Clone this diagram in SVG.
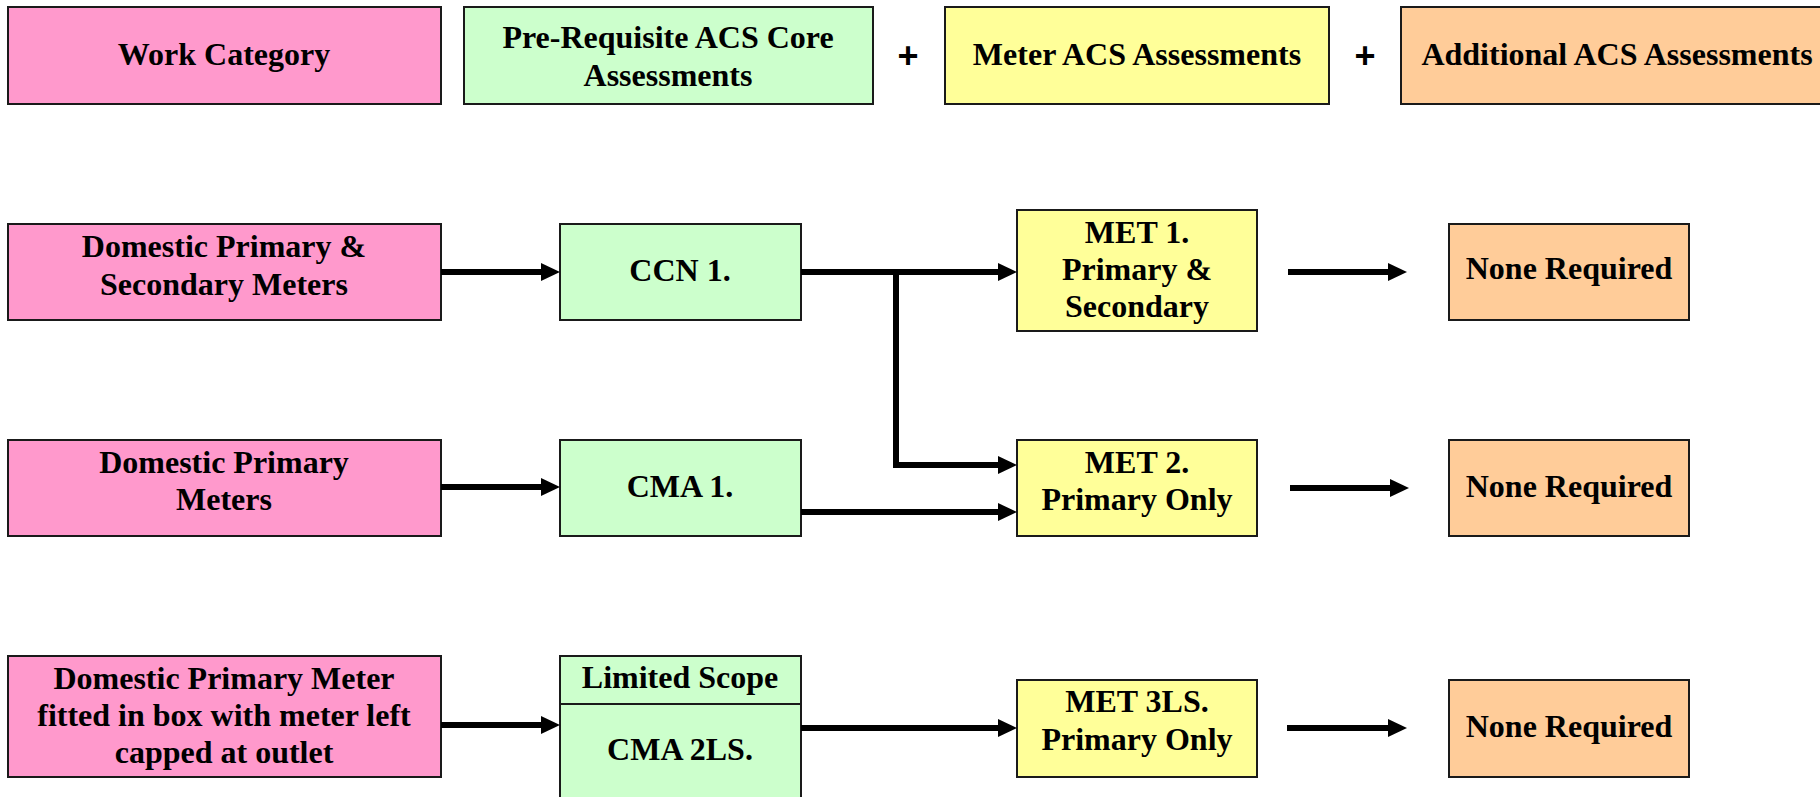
<svg xmlns="http://www.w3.org/2000/svg" width="1820" height="797" viewBox="0 0 1820 797">
  <style>
    .box { stroke: #1a1a1a; stroke-width: 2; }
    .pink { fill: #FF99CC; }
    .green { fill: #CCFFCC; }
    .yellow { fill: #FFFF99; }
    .orange { fill: #FFCC99; }
    text { font-family: "Liberation Serif", "Times New Roman", serif; font-weight: bold; font-size: 32px; fill: #000; text-anchor: middle; }
    .plus { font-family: "Liberation Sans", Arial, sans-serif; font-size: 36px; }
    .conn { fill: none; stroke: #000; stroke-width: 6; stroke-linejoin: miter; marker-end: url(#arrow); }
  </style>
  <defs>
    <marker id="arrow" markerUnits="userSpaceOnUse" markerWidth="19" markerHeight="18" refX="4" refY="9" orient="auto">
      <path d="M0,0 L19,9 L0,18 Z" fill="#000"/>
    </marker>
  </defs>
  <rect width="1820" height="797" fill="#fff"/>

  <!-- Header row -->
  <g id="hdr-work-category">
    <rect class="box pink" x="8" y="7" width="433" height="97"/>
    <text x="224" y="65">Work Category</text>
  </g>
  <g id="hdr-prereq">
    <rect class="box green" x="464" y="7" width="409" height="97"/>
    <text x="668" y="48">Pre-Requisite ACS Core</text>
    <text x="668" y="86">Assessments</text>
  </g>
  <g id="plus-1"><text class="plus" x="908" y="68">+</text></g>
  <g id="hdr-meter">
    <rect class="box yellow" x="945" y="7" width="384" height="97"/>
    <text x="1137" y="65">Meter ACS Assessments</text>
  </g>
  <g id="plus-2"><text class="plus" x="1365" y="68">+</text></g>
  <g id="hdr-additional">
    <rect class="box orange" x="1401" y="7" width="440" height="97"/>
    <text x="1617" y="65">Additional ACS Assessments</text>
  </g>

  <!-- Row 1 -->
  <g id="wc-primary-secondary">
    <rect class="box pink" x="8" y="224" width="433" height="96"/>
    <text x="224" y="257">Domestic Primary &amp;</text>
    <text x="224" y="295">Secondary Meters</text>
  </g>
  <g id="ccn1">
    <rect class="box green" x="560" y="224" width="241" height="96"/>
    <text x="680" y="281">CCN 1.</text>
  </g>
  <g id="met1">
    <rect class="box yellow" x="1017" y="210" width="240" height="121"/>
    <text x="1137" y="243">MET 1.</text>
    <text x="1137" y="280">Primary &amp;</text>
    <text x="1137" y="317">Secondary</text>
  </g>
  <g id="none1">
    <rect class="box orange" x="1449" y="224" width="240" height="96"/>
    <text x="1569" y="279">None Required</text>
  </g>

  <!-- Row 2 -->
  <g id="wc-primary">
    <rect class="box pink" x="8" y="440" width="433" height="96"/>
    <text x="224" y="473">Domestic Primary</text>
    <text x="224" y="510">Meters</text>
  </g>
  <g id="cma1">
    <rect class="box green" x="560" y="440" width="241" height="96"/>
    <text x="680" y="497">CMA 1.</text>
  </g>
  <g id="met2">
    <rect class="box yellow" x="1017" y="440" width="240" height="96"/>
    <text x="1137" y="473">MET 2.</text>
    <text x="1137" y="510">Primary Only</text>
  </g>
  <g id="none2">
    <rect class="box orange" x="1449" y="440" width="240" height="96"/>
    <text x="1569" y="497">None Required</text>
  </g>

  <!-- Row 3 -->
  <g id="wc-primary-box">
    <rect class="box pink" x="8" y="656" width="433" height="121"/>
    <text x="224" y="689">Domestic Primary Meter</text>
    <text x="224" y="726">fitted in box with meter left</text>
    <text x="224" y="763">capped at outlet</text>
  </g>
  <g id="cma2ls">
    <rect class="box green" x="560" y="656" width="241" height="160"/>
    <line x1="560" y1="704" x2="801" y2="704" stroke="#1a1a1a" stroke-width="2"/>
    <text x="680" y="688">Limited Scope</text>
    <text x="680" y="760">CMA 2LS.</text>
  </g>
  <g id="met3ls">
    <rect class="box yellow" x="1017" y="680" width="240" height="97"/>
    <text x="1137" y="712">MET 3LS.</text>
    <text x="1137" y="750">Primary Only</text>
  </g>
  <g id="none3">
    <rect class="box orange" x="1449" y="680" width="240" height="97"/>
    <text x="1569" y="737">None Required</text>
  </g>

  <!-- Connectors -->
  <g id="connectors">
    <path class="conn" d="M441,272 H545"/>
    <path class="conn" d="M441,487 H545"/>
    <path class="conn" d="M441,725 H545"/>
    <path class="conn" d="M801,272 H1002"/>
    <path class="conn" d="M896,272 V465 H1002"/>
    <path class="conn" d="M801,512 H1002"/>
    <path class="conn" d="M801,728 H1002"/>
    <path class="conn" d="M1288,272 H1392"/>
    <path class="conn" d="M1290,488 H1394"/>
    <path class="conn" d="M1287,728 H1392"/>
  </g>
</svg>
